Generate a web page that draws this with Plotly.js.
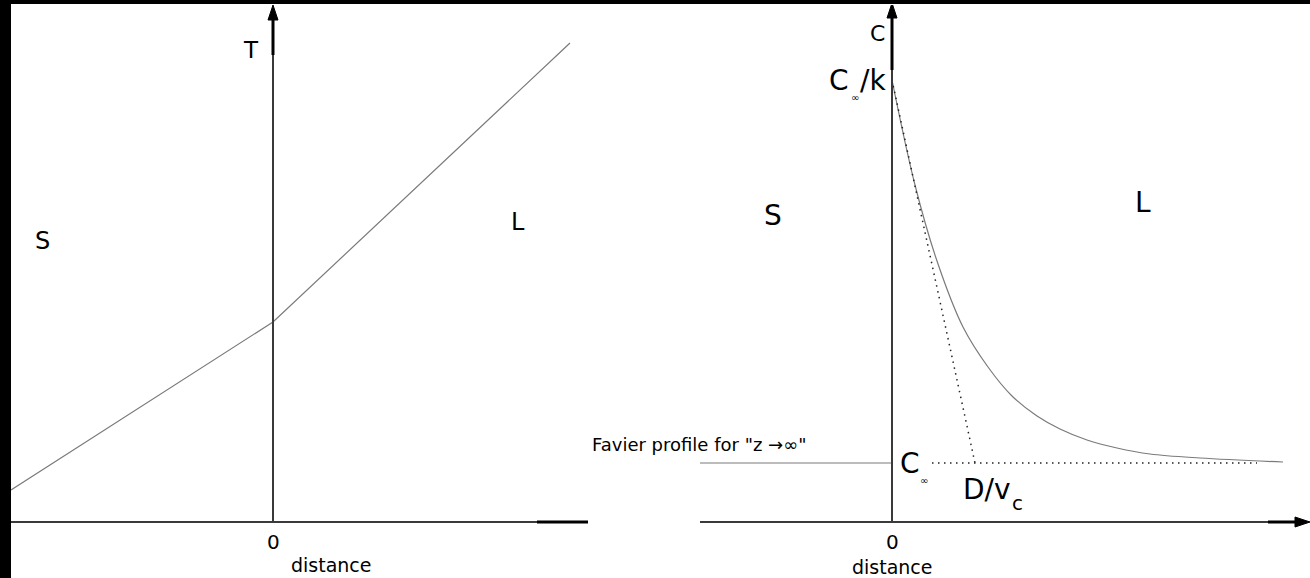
<!DOCTYPE html>
<html>
<head>
<meta charset="utf-8">
<script src="https://cdn.plot.ly/plotly-3.0.1.min.js"></script>
<style>html,body{margin:0;padding:0;background:#fff;}#chart{width:1310px;height:578px;}</style>
</head>
<body>
<div id="chart"></div>
<script>
// Left panel: temperature profile across the interface
const tDist = [-262, 0, 297];
const tVal = [32, 200, 479];
// Right panel: solute concentration profile in the liquid
const cDist = [0, 23, 45, 71, 96, 120, 145, 168, 195, 225, 258, 308, 391];
const cVal = [442, 337, 261, 195, 155, 126, 106, 93, 82, 74, 68, 64, 60];
// Tangent at interface and far-field level
const tanDist = [0, 83];
const tanVal = [442, 59];
const cInfDist = [40, 365];
const cInfVal = [59, 59];
const favierDist = [-192, 0];
const favierVal = [59, 59];

const FONT = 'DejaVu Sans, Verdana, sans-serif';
const grey = '#7a7a7a';
const axisCol = '#3a3a3a';

const traces = [
  {x: tDist, y: tVal, xaxis: 'x', yaxis: 'y', mode: 'lines', line: {color: grey, width: 1.2}, cliponaxis: false, hoverinfo: 'skip'},
  {x: cDist, y: cVal, xaxis: 'x2', yaxis: 'y2', mode: 'lines', line: {color: grey, width: 1.2, shape: 'spline'}, cliponaxis: false, hoverinfo: 'skip'},
  {x: tanDist, y: tanVal, xaxis: 'x2', yaxis: 'y2', mode: 'lines', line: {color: '#222', width: 1.5, dash: '1.5px,4.5px'}, cliponaxis: false, hoverinfo: 'skip'},
  {x: cInfDist, y: cInfVal, xaxis: 'x2', yaxis: 'y2', mode: 'lines', line: {color: '#222', width: 1.5, dash: '1.5px,4.5px'}, cliponaxis: false, hoverinfo: 'skip'},
  {x: favierDist, y: favierVal, xaxis: 'x2', yaxis: 'y2', mode: 'lines', line: {color: grey, width: 1.2}, cliponaxis: false, hoverinfo: 'skip'}
];

const hidden = {visible: false, showgrid: false, zeroline: false, fixedrange: true};

const shapes = [
  // black borders of the original scan
  {type: 'rect', xref: 'paper', yref: 'paper', x0: 0, x1: 11/1310, y0: 0, y1: 1, fillcolor: '#000', line: {width: 0}, layer: 'below'},
  {type: 'rect', xref: 'paper', yref: 'paper', x0: 0, x1: 1, y0: 1 - 4/578, y1: 1, fillcolor: '#000', line: {width: 0}, layer: 'below'},
  // left axes
  {type: 'line', xref: 'x', yref: 'y', x0: 0, x1: 0, y0: 0, y1: 467, line: {color: axisCol, width: 2}},
  {type: 'line', xref: 'x', yref: 'y', x0: 0, x1: 0, y0: 467, y1: 504, line: {color: '#000', width: 3}},
  {type: 'path', xref: 'x', yref: 'y', path: 'M -5 502 L 0 517 L 5 502 Z', fillcolor: '#000', line: {color: '#000', width: 1}},
  {type: 'line', xref: 'x', yref: 'y', x0: -262, x1: 315, y0: 0, y1: 0, line: {color: axisCol, width: 2}},
  {type: 'line', xref: 'x', yref: 'y', x0: 264, x1: 315, y0: 0, y1: 0, line: {color: '#000', width: 3}},
  // right axes
  {type: 'line', xref: 'x2', yref: 'y2', x0: 0, x1: 0, y0: 0, y1: 452, line: {color: axisCol, width: 2}},
  {type: 'line', xref: 'x2', yref: 'y2', x0: 0, x1: 0, y0: 452, y1: 506, line: {color: '#000', width: 3}},
  {type: 'path', xref: 'x2', yref: 'y2', path: 'M -5 504 L 0 519 L 5 504 Z', fillcolor: '#000', line: {color: '#000', width: 1}},
  {type: 'line', xref: 'x2', yref: 'y2', x0: -192, x1: 378, y0: 0, y1: 0, line: {color: axisCol, width: 2}},
  {type: 'line', xref: 'x2', yref: 'y2', x0: 376, x1: 406, y0: 0, y1: 0, line: {color: '#000', width: 3}},
  {type: 'path', xref: 'x2', yref: 'y2', path: 'M 403 -5 L 418 0 L 403 5 Z', fillcolor: '#000', line: {color: '#000', width: 1}}
];

function txt(xref, yref, x, y, text, size, xanchor, yanchor) {
  return {xref: xref, yref: yref, x: x, y: y, text: text, showarrow: false, borderpad: 0,
    font: {family: FONT, size: size, color: '#000'}, xanchor: xanchor || 'center', yanchor: yanchor || 'middle'};
}

const annotations = [
  // left labels
  txt('x', 'y', -22, 472, 'T', 23),
  txt('x', 'y', -231, 281, 'S', 24),
  txt('x', 'y', 245, 300, 'L', 24),
  txt('x', 'y', 0, -20, '0', 20),
  txt('x', 'y', 58, -43, 'distance', 19),
  // right labels
  txt('x2', 'y2', -15, 489, 'C', 22),
  txt('x2', 'y2', -42, 442, 'C', 28, 'right', 'middle'),
  txt('x2', 'y2', -42, 425, '∞', 10, 'left', 'middle'),
  txt('x2', 'y2', -33, 442, '/k', 28, 'left', 'middle'),
  txt('x2', 'y2', -119, 307, 'S', 28),
  txt('x2', 'y2', 251, 320, 'L', 28),
  txt('x2', 'y2', 7, 59, 'C', 28, 'left', 'middle'),
  txt('x2', 'y2', 27, 42, '∞', 10, 'left', 'middle'),
  txt('x2', 'y2', 70, 33, 'D/v', 28, 'left', 'middle'),
  txt('x2', 'y2', 119, 19, 'c', 20, 'left', 'middle'),
  txt('x2', 'y2', 0, -20, '0', 20),
  txt('x2', 'y2', 0, -45, 'distance', 19),
  txt('x2', 'y2', -193, 78, 'Favier profile for "z →∞"', 18)
];

const layout = {
  width: 1310, height: 578,
  margin: {l: 0, r: 0, t: 0, b: 0, pad: 0},
  paper_bgcolor: '#fff', plot_bgcolor: 'rgba(0,0,0,0)',
  showlegend: false,
  xaxis: Object.assign({domain: [11/1310, 588/1310], range: [-262, 315], anchor: 'y'}, hidden),
  yaxis: Object.assign({domain: [0, 573/578], range: [-56, 517], anchor: 'x'}, hidden),
  xaxis2: Object.assign({domain: [590/1310, 1], range: [-302, 418], anchor: 'y2'}, hidden),
  yaxis2: Object.assign({domain: [0, 573/578], range: [-56, 517], anchor: 'x2'}, hidden),
  shapes: shapes,
  annotations: annotations
};

Plotly.newPlot('chart', traces, layout, {displayModeBar: false, staticPlot: true});
</script>
</body>
</html>
